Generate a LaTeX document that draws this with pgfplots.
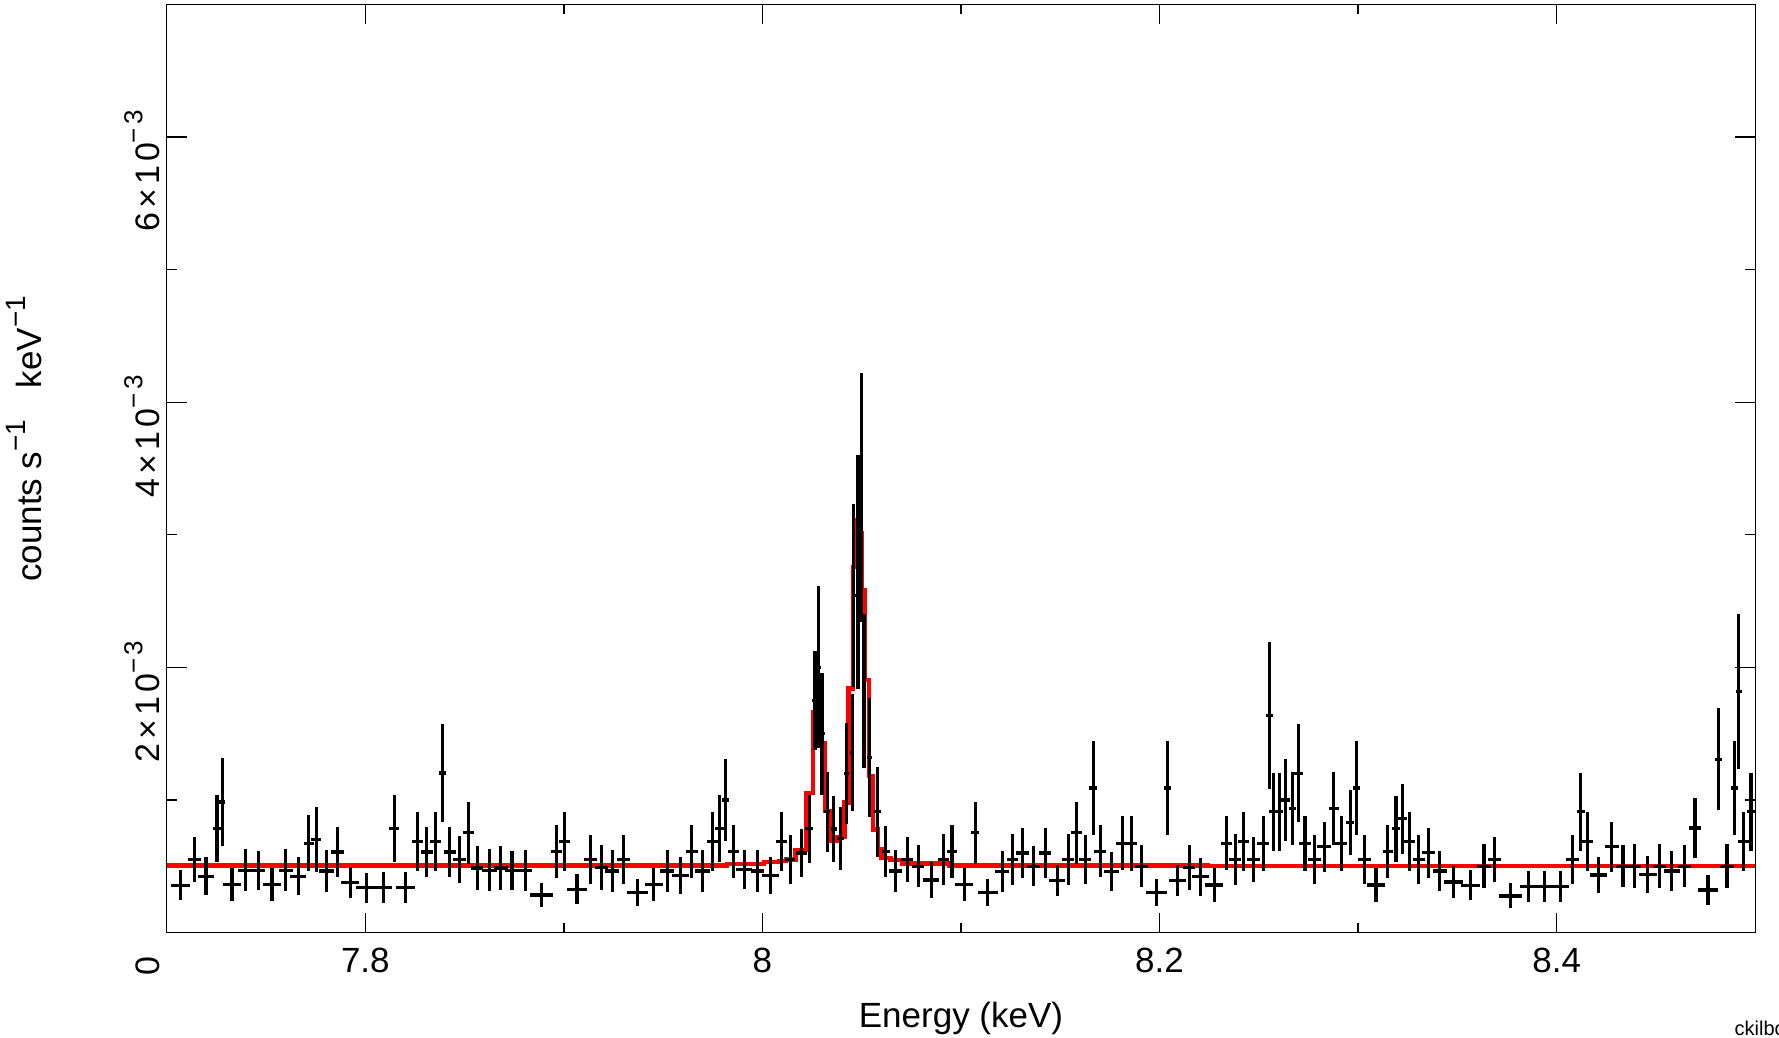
\documentclass[border=0pt]{standalone}
\usepackage{pgfplots}
\usepackage{pgfplotstable}
\pgfplotsset{compat=1.18}
\usepackage{fontspec}
\setmainfont{Liberation Sans}
\newfontfamily\ytf{Liberation Sans}[LetterSpace=12]
\newcommand{\supr}[1]{\raisebox{0.45em}{\fontsize{14}{14}\selectfont #1}}
\newcommand{\supt}[1]{\raisebox{0.5em}{\fontsize{13}{13}\selectfont #1}}

\pgfplotstableread{
E v xe ye
7.7068 0.356 0.0049 0.113
7.7139 0.551 0.0032 0.172
7.7197 0.424 0.0039 0.144
7.7253 0.784 0.0022 0.251
7.7280 0.985 0.0015 0.335
7.7328 0.363 0.0044 0.125
7.7395 0.469 0.0034 0.158
7.7460 0.469 0.0034 0.149
7.7530 0.363 0.0043 0.125
7.7599 0.469 0.0036 0.158
7.7662 0.424 0.0039 0.144
7.7715 0.674 0.0026 0.211
7.7753 0.702 0.0025 0.242
7.7804 0.464 0.0036 0.158
7.7861 0.607 0.0032 0.189
7.7924 0.376 0.0045 0.117
7.8005 0.338 0.0050 0.113
7.8091 0.338 0.0045 0.118
7.8146 0.784 0.0025 0.251
7.8202 0.338 0.0046 0.118
7.8264 0.687 0.0028 0.223
7.8309 0.607 0.0031 0.189
7.8353 0.687 0.0029 0.223
7.8388 1.203 0.0019 0.370
7.8425 0.607 0.0031 0.189
7.8474 0.551 0.0033 0.179
7.8519 0.752 0.0027 0.232
7.8564 0.486 0.0031 0.165
7.8626 0.469 0.0038 0.158
7.8682 0.486 0.0034 0.165
7.8739 0.469 0.0034 0.149
7.8806 0.469 0.0035 0.155
7.8888 0.283 0.0059 0.094
7.8964 0.612 0.0027 0.200
7.9004 0.687 0.0027 0.223
7.9066 0.326 0.0050 0.113
7.9134 0.551 0.0032 0.184
7.9189 0.489 0.0034 0.169
7.9244 0.464 0.0035 0.158
7.9300 0.551 0.0034 0.184
7.9370 0.301 0.0053 0.103
7.9453 0.363 0.0045 0.125
7.9521 0.464 0.0036 0.158
7.9587 0.431 0.0042 0.138
7.9644 0.612 0.0030 0.200
7.9698 0.464 0.0039 0.158
7.9748 0.687 0.0027 0.223
7.9783 0.784 0.0021 0.253
7.9814 1.000 0.0020 0.311
7.9854 0.612 0.0029 0.200
7.9908 0.476 0.0040 0.145
7.9975 0.464 0.0035 0.158
8.0040 0.431 0.0042 0.138
8.0096 0.687 0.0027 0.223
8.0141 0.551 0.0025 0.184
8.0196 0.600 0.0028 0.183
8.0235 0.782 0.0020 0.257
8.0265 1.750 0.0013 0.370
8.0281 2.000 0.0013 0.610
8.0300 1.500 0.0013 0.460
8.0327 0.910 0.0015 0.300
8.0359 0.780 0.0016 0.250
8.0393 0.710 0.0017 0.240
8.0422 1.200 0.0013 0.380
8.0452 1.360 0.0011 0.440
8.0460 2.540 0.0010 0.690
8.0481 2.720 0.0010 0.880
8.0499 3.280 0.0008 0.940
8.0511 1.820 0.0010 0.580
8.0540 1.320 0.0012 0.450
8.0580 0.910 0.0016 0.340
8.0620 0.610 0.0020 0.190
8.0670 0.464 0.0033 0.158
8.0730 0.551 0.0030 0.172
8.0784 0.500 0.0030 0.160
8.0850 0.396 0.0040 0.138
8.0912 0.551 0.0030 0.194
8.0955 0.612 0.0025 0.200
8.1016 0.360 0.0045 0.125
8.1071 0.752 0.0022 0.232
8.1134 0.300 0.0050 0.103
8.1207 0.459 0.0035 0.154
8.1258 0.551 0.0027 0.193
8.1308 0.600 0.0032 0.188
8.1365 0.500 0.0033 0.150
8.1424 0.600 0.0031 0.188
8.1484 0.393 0.0039 0.119
8.1540 0.551 0.0029 0.193
8.1582 0.752 0.0027 0.232
8.1626 0.551 0.0031 0.182
8.1666 1.090 0.0019 0.355
8.1701 0.614 0.0029 0.198
8.1758 0.459 0.0039 0.148
8.1814 0.672 0.0032 0.204
8.1859 0.672 0.0026 0.208
8.1908 0.500 0.0033 0.159
8.1983 0.300 0.0053 0.103
8.2040 1.090 0.0018 0.355
8.2091 0.393 0.0043 0.119
8.2149 0.489 0.0031 0.170
8.2205 0.421 0.0042 0.144
8.2275 0.358 0.0046 0.125
8.2338 0.672 0.0029 0.204
8.2381 0.551 0.0029 0.193
8.2423 0.689 0.0029 0.222
8.2472 0.551 0.0034 0.168
8.2522 0.672 0.0031 0.207
8.2552 1.637 0.0017 0.551
8.2574 0.910 0.0021 0.294
8.2603 0.910 0.0019 0.294
8.2635 1.000 0.0024 0.310
8.2668 0.935 0.0017 0.274
8.2700 1.200 0.0023 0.370
8.2733 0.672 0.0029 0.207
8.2779 0.551 0.0032 0.182
8.2829 0.647 0.0035 0.188
8.2877 0.935 0.0025 0.276
8.2915 0.672 0.0029 0.207
8.2960 0.827 0.0021 0.246
8.2992 1.090 0.0017 0.355
8.3033 0.551 0.0032 0.182
8.3090 0.358 0.0043 0.125
8.3149 0.609 0.0025 0.200
8.3191 0.782 0.0019 0.250
8.3224 0.857 0.0024 0.263
8.3259 0.684 0.0029 0.223
8.3306 0.551 0.0031 0.182
8.3355 0.601 0.0031 0.187
8.3411 0.464 0.0036 0.154
8.3481 0.381 0.0046 0.117
8.3567 0.356 0.0049 0.113
8.3634 0.500 0.0034 0.165
8.3688 0.551 0.0034 0.169
8.3768 0.276 0.0056 0.094
8.3859 0.346 0.0044 0.115
8.3940 0.346 0.0044 0.115
8.4020 0.346 0.0044 0.115
8.4081 0.551 0.0033 0.184
8.4121 0.912 0.0021 0.294
8.4156 0.684 0.0029 0.223
8.4212 0.434 0.0044 0.137
8.4277 0.647 0.0035 0.189
8.4334 0.500 0.0033 0.158
8.4393 0.500 0.0033 0.165
8.4458 0.439 0.0045 0.138
8.4519 0.500 0.0033 0.165
8.4579 0.464 0.0040 0.148
8.4645 0.500 0.0033 0.158
8.4697 0.789 0.0029 0.226
8.4762 0.321 0.0049 0.110
8.4816 1.308 0.0019 0.385
8.4858 0.500 0.0033 0.165
8.4897 1.090 0.0017 0.353
8.4917 1.820 0.0014 0.583
8.4942 0.684 0.0028 0.223
8.4979 0.912 0.0021 0.294
}\datatable

\pgfplotstableread{
E m
7.7000 0.506
7.9822 0.519
8.0007 0.531
8.0082 0.539
8.0119 0.551
8.0166 0.622
8.0222 1.050
8.0254 1.660
8.0272 1.770
8.0294 1.430
8.0314 0.915
8.0339 0.690
8.0376 0.720
8.0413 0.980
8.0433 1.840
8.0456 2.757
8.0472 3.110
8.0486 3.015
8.0499 2.586
8.0516 1.905
8.0536 1.178
8.0556 0.777
8.0580 0.627
8.0600 0.564
8.0645 0.544
8.0704 0.520
8.0939 0.506
8.2242 0.499
8.5000 0.499
}\modeltable

\begin{document}
\begin{tikzpicture}
\begin{axis}[
  scale only axis,
  width=794.2pt, height=464pt,
  xmin=7.7, xmax=8.5, ymin=0, ymax=7,
  axis line style={line width=0.65pt},
  tick style={line width=0.65pt, black},
  tick align=inside,
  xtick pos=both, ytick pos=both,
  major tick length=10pt, minor tick length=5pt,
  xtick={7.8,8.0,8.2,8.4},
  xticklabels={7.8,8,8.2,8.4},
  minor xtick={7.9,8.1,8.3},
  ytick={0,2,4,6},
  yticklabels={0,{2×10\supt{−3}},{4×10\supt{−3}},{6×10\supt{−3}}},
  minor ytick={1,3,5},
  xticklabel style={font=\fontsize{17.5}{20}\selectfont, yshift=-4pt},
  yticklabel style={font=\ytf\fontsize{17}{20}\selectfont, rotate=90, anchor=south, xshift=-17pt},
  xlabel={Energy (keV)},
  ylabel={counts s\supr{−1}\hspace{0.9em}keV\supr{−1}},
  label style={font=\fontsize{17.5}{20}\selectfont},
  xlabel style={at={(axis description cs:0.5,0)}, anchor=base, yshift=-47.7pt},
  every axis y label/.append style={at={(axis description cs:-0.079,0.532)}, anchor=base},
  clip mode=individual,
]
\addplot[red, line width=2.1pt, const plot] table[x=E, y=m] {\modeltable};
\addplot[black, only marks, mark=*, mark size=0pt, mark options={draw=none, fill=none},
  error bars/.cd, x dir=both, x explicit, y dir=both, y explicit,
  error mark=none, error bar style={line width=1.6pt, black}]
  table[x=E, y=v, x error=xe, y error=ye] {\datatable};
\node[anchor=base west, font=\fontsize{10}{11}\selectfont, inner sep=0pt] at (rel axis cs:0.9868,-0.111) {ckilbou};
\end{axis}
\pgfresetboundingbox
\path ([xshift=-83.4pt,yshift=-52.7pt]current axis.south west) rectangle ([xshift=11.9pt,yshift=2.25pt]current axis.north east);
\end{tikzpicture}
\end{document}
